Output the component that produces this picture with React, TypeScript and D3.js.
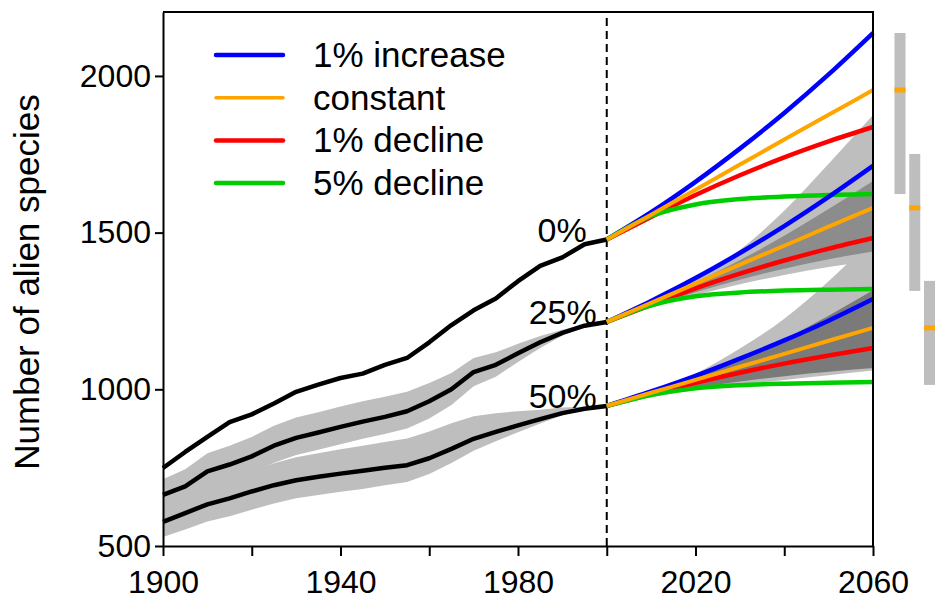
import React, {useEffect, useRef} from 'react';
import * as d3 from 'd3';

const WIDTH = 937;
const HEIGHT = 600;
const FONT = '"Liberation Sans", Arial, Helvetica, sans-serif';

// observed record, every 5 years
const pastYears = [1900, 1905, 1910, 1915, 1920, 1925, 1930, 1935, 1940, 1945, 1950,
    1955, 1960, 1965, 1970, 1975, 1980, 1985, 1990, 1995, 2000];
const past0 = [749, 800, 848, 895, 920, 955, 992, 1015, 1036, 1050, 1078,
    1100, 1150, 1205, 1252, 1290, 1345, 1394, 1421, 1463, 1478];
const past25 = [663, 690, 738, 760, 786, 820, 845, 862, 880, 897, 912,
    930, 962, 1000, 1055, 1078, 1115, 1150, 1180, 1203, 1215];
const past25Low = [618, 645, 690, 710, 734, 766, 790, 807, 825, 842, 857,
    875, 907, 950, 1010, 1040, 1087, 1132, 1172, 1200, 1215];
const past25High = [713, 745, 796, 820, 848, 884, 910, 927, 945, 962, 976,
    992, 1020, 1052, 1100, 1118, 1145, 1170, 1190, 1207, 1215];
const past50 = [577, 605, 633, 652, 674, 694, 710, 721, 731, 740, 750,
    758, 780, 810, 842, 864, 885, 905, 924, 938, 947];
const past50Low = [529, 553, 578, 595, 616, 636, 652, 663, 673, 682, 694,
    704, 730, 765, 804, 834, 863, 891, 917, 936, 947];
const past50High = [625, 660, 693, 715, 740, 764, 783, 796, 809, 820, 832,
    843, 865, 892, 914, 924, 930, 935, 942, 944, 947];

// projections, every 10 years
const projYears = [2000, 2010, 2020, 2030, 2040, 2050, 2060];
const inc0 = [1478, 1565, 1662, 1768, 1882, 2005, 2137];
const const0 = [1478, 1557, 1637, 1717, 1797, 1876, 1955];
const dec0 = [1478, 1550, 1620, 1683, 1740, 1791, 1837];
const dec5of0 = [1478, 1553, 1590, 1607, 1615, 1620, 1623];
const inc25 = [1215, 1282, 1355, 1435, 1521, 1614, 1713];
const const25 = [1215, 1276, 1337, 1398, 1458, 1519, 1579];
const dec25 = [1215, 1269, 1322, 1369, 1411, 1449, 1483];
const dec5of25 = [1215, 1268, 1297, 1309, 1315, 1318, 1320];
const inc50 = [947, 993, 1043, 1098, 1156, 1219, 1288];
const const50 = [947, 989, 1030, 1072, 1113, 1155, 1196];
const dec50 = [947, 985, 1021, 1053, 1082, 1108, 1132];
const dec5of50 = [947, 982, 1003, 1013, 1018, 1021, 1023];

// projection uncertainty
const proj25LightLow = [1215, 1260, 1300, 1335, 1365, 1390, 1410];
const proj25LightHigh = [1215, 1281, 1354, 1445, 1570, 1720, 1875];
const proj25DarkLow = [1215, 1264, 1310, 1350, 1385, 1415, 1440];
const proj25DarkHigh = [1215, 1278, 1342, 1412, 1490, 1575, 1665];
const proj50LightLow = [947, 975, 998, 1015, 1030, 1045, 1060];
const proj50LightHigh = [947, 992, 1050, 1130, 1225, 1345, 1480];
const proj50DarkLow = [947, 978, 1004, 1025, 1042, 1056, 1068];
const proj50DarkHigh = [947, 990, 1040, 1095, 1160, 1235, 1316];

// ranges in 2060 shown at the right
const rangeLow = [1623, 1314, 1014];
const rangeHigh = [2137, 1751, 1346];
const rangeMid = [1955, 1579, 1196];

const groupLabels = ['0%', '25%', '50%'];
const scenarios = ['1% increase', 'constant', '1% decline', '5% decline'];
const scenarioColors = ['#0000FF', '#FFA500', '#FF0000', '#00CD00'];

const App: React.FC = () => {
    const svgRef = useRef<SVGSVGElement | null>(null);

    useEffect(() => {
        if (svgRef.current) {
            drawChart();
        }
    }, []);

    const drawChart = () => {
        const svg = d3.select(svgRef.current);
        svg.selectAll('*').remove();

        const x = d3.scaleLinear().domain([1900, 2060]).range([163, 873]);
        const y = d3.scaleLinear().domain([500, 2204]).range([546, 12]);

        const pastBand = (lo: number[], hi: number[]) => d3.area<number>()
            .x((d, i) => x(pastYears[i]))
            .y0((d, i) => y(lo[i]))
            .y1((d, i) => y(hi[i]))(pastYears);
        const projBand = (lo: number[], hi: number[]) => d3.area<number>()
            .curve(d3.curveMonotoneX)
            .x((d, i) => x(projYears[i]))
            .y0((d, i) => y(lo[i]))
            .y1((d, i) => y(hi[i]))(projYears);
        const pastLine = d3.line<number>().x((d, i) => x(pastYears[i])).y((d) => y(d));
        const projLine = d3.line<number>().curve(d3.curveMonotoneX)
            .x((d, i) => x(projYears[i])).y((d) => y(d));

        // grey bands of the record
        [[past50Low, past50High], [past25Low, past25High]].forEach(([lo, hi]) => {
            svg.append('path').attr('d', pastBand(lo, hi) as string).attr('fill', '#BEBEBE');
        });

        // projection bands: light ones first, dark on top
        svg.append('path').attr('d', projBand(proj25LightLow, proj25LightHigh) as string).attr('fill', '#BEBEBE');
        svg.append('path').attr('d', projBand(proj50LightLow, proj50LightHigh) as string).attr('fill', '#BEBEBE');
        svg.append('path').attr('d', projBand(proj25DarkLow, proj25DarkHigh) as string).attr('fill', '#8C8C8C');
        svg.append('path').attr('d', projBand(proj50DarkLow, proj50DarkHigh) as string).attr('fill', '#7A7A7A');

        // 2000 divider
        svg.append('line')
            .attr('x1', x(2000)).attr('x2', x(2000))
            .attr('y1', y(500)).attr('y2', y(2204))
            .attr('stroke', 'black')
            .attr('stroke-width', 2)
            .attr('stroke-dasharray', '8,5');

        // black observed lines
        [past0, past25, past50].forEach((s) => {
            svg.append('path')
                .attr('d', pastLine(s) as string)
                .attr('fill', 'none')
                .attr('stroke', 'black')
                .attr('stroke-width', 4.5)
                .attr('stroke-linejoin', 'round');
        });

        // scenario lines: blue, red, green, then orange on top
        const groups = [
            [inc0, const0, dec0, dec5of0],
            [inc25, const25, dec25, dec5of25],
            [inc50, const50, dec50, dec5of50],
        ];
        const drawOrder = [0, 2, 3, 1];
        groups.forEach((g) => {
            drawOrder.forEach((k) => {
                svg.append('path')
                    .attr('d', projLine(g[k]) as string)
                    .attr('fill', 'none')
                    .attr('stroke', scenarioColors[k])
                    .attr('stroke-width', k === 1 ? 4 : 4.5);
            });
        });

        // group labels
        [past0, past25, past50].forEach((s, i) => {
            svg.append('text')
                .attr('x', x(2000) - (i === 0 ? 20 : 10))
                .attr('y', y(s[s.length - 1]) + 2)
                .attr('text-anchor', 'end')
                .style('font-family', FONT)
                .style('font-size', '34px')
                .text(groupLabels[i]);
        });

        // axes
        const yAxis = d3.axisLeft(y)
            .tickValues([500, 1000, 1500, 2000])
            .tickSize(8)
            .tickSizeOuter(0)
            .tickPadding(4)
            .tickFormat(d3.format('d'));
        const yg = svg.append('g').attr('transform', `translate(${x(1900)},0)`).call(yAxis);

        const xAxis = d3.axisBottom(x)
            .tickValues(d3.range(1900, 2061, 20))
            .tickSize(10)
            .tickSizeOuter(0)
            .tickPadding(14)
            .tickFormat((d) => ((+d - 1900) % 40 === 0 ? String(d) : ''));
        const xg = svg.append('g').attr('transform', `translate(0,${y(500)})`).call(xAxis);

        [yg, xg].forEach((g) => {
            g.selectAll('path, line').attr('stroke', 'black').attr('stroke-width', 2);
            g.selectAll('text')
                .style('font-family', FONT)
                .style('font-size', '32px')
                .attr('fill', 'black');
        });

        // rest of the box
        svg.append('path')
            .attr('d', `M${x(1900)},${y(2204)}H${x(2060)}V${y(500)}`)
            .attr('fill', 'none')
            .attr('stroke', 'black')
            .attr('stroke-width', 2);

        svg.append('text')
            .attr('transform', `translate(39,282) rotate(-90)`)
            .attr('text-anchor', 'middle')
            .style('font-family', FONT)
            .style('font-size', '35px')
            .text('Number of alien species');

        // legend
        const legend = svg.append('g');
        scenarios.forEach((name, i) => {
            const ly = 55 + i * 42.7;
            legend.append('line')
                .attr('x1', 216).attr('x2', 283)
                .attr('y1', ly).attr('y2', ly)
                .attr('stroke', scenarioColors[i])
                .attr('stroke-width', i === 1 ? 3.5 : 4.5)
                .attr('stroke-linecap', 'round');
            legend.append('text')
                .attr('x', 313)
                .attr('y', ly + 12)
                .style('font-family', FONT)
                .style('font-size', '35px')
                .text(name);
        });

        // 2060 ranges on the right
        const bx = d3.scalePoint<number>().domain([0, 1, 2]).range([900, 929.5]);
        rangeLow.forEach((lo, i) => {
            svg.append('rect')
                .attr('x', (bx(i) as number) - 5.5)
                .attr('width', 11)
                .attr('y', y(rangeHigh[i]))
                .attr('height', y(lo) - y(rangeHigh[i]))
                .attr('fill', '#BEBEBE');
            svg.append('rect')
                .attr('x', (bx(i) as number) - 5.5)
                .attr('width', 11)
                .attr('y', y(rangeMid[i]) - 2.5)
                .attr('height', 5)
                .attr('fill', '#FFA500');
        });
    };

    return (
        <svg
            ref={svgRef}
            width={WIDTH}
            height={HEIGHT}
            style={{position: 'absolute', left: 0, top: 0, background: 'white'}}
        />
    );
};

export default App;
